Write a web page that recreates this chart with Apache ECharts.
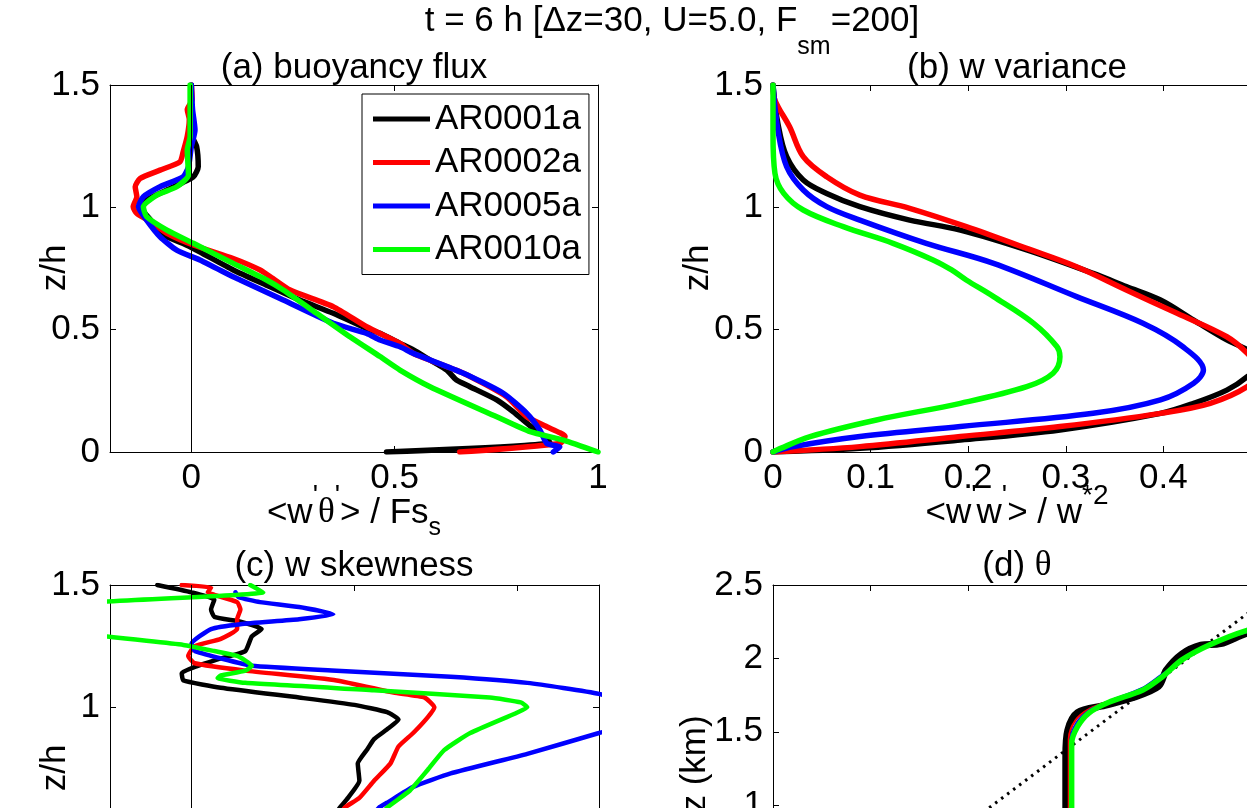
<!DOCTYPE html>
<html>
<head>
<meta charset="utf-8">
<script src="https://cdn.jsdelivr.net/npm/echarts@6.0.0/dist/echarts.min.js"></script>
<style>
html,body{margin:0;padding:0;overflow:hidden;background:#fff;}
#c{width:1400px;height:1000px;}
</style>
</head>
<body>
<div id="c"></div>
<script>
// ---------------- data ----------------
const runs = ['AR0001a', 'AR0002a', 'AR0005a', 'AR0010a'];
const runColors = ['#000000', '#ff0000', '#0000ff', '#00ff00'];

// (a) buoyancy flux  [<w'θ'>/Fs_s , z/h]
const flux_AR0001a = [[0,1.5],[0,1.3],[0.013,1.248],[0.017,1.166],[0.005,1.125],[-0.06,1.071],[-0.11,1.03],[-0.122,0.996],[-0.10,0.948],[-0.077,0.894],[-0.003,0.839],[0.103,0.744],[0.185,0.682],[0.267,0.621],[0.349,0.567],[0.431,0.505],[0.464,0.485],[0.513,0.444],[0.546,0.417],[0.587,0.376],[0.628,0.335],[0.652,0.294],[0.685,0.267],[0.751,0.213],[0.791,0.165],[0.84,0.098],[0.874,0.057],[0.882,0.037],[0.48,0]];
const flux_AR0002a = [[0,1.5],[0.002,1.44],[-0.01,1.40],[-0.005,1.36],[-0.01,1.29],[-0.02,1.227],[-0.028,1.186],[-0.077,1.152],[-0.126,1.118],[-0.138,1.084],[-0.134,1.043],[-0.143,1.002],[-0.134,0.975],[-0.10,0.941],[-0.06,0.894],[0.005,0.846],[0.103,0.791],[0.169,0.744],[0.2,0.71],[0.243,0.662],[0.349,0.594],[0.431,0.512],[0.513,0.444],[0.546,0.403],[0.669,0.322],[0.775,0.226],[0.825,0.144],[0.874,0.103],[0.919,0.063],[0.906,0.035],[0.66,0]];
const flux_AR0005a = [[0,1.5],[0.003,1.40],[0.009,1.316],[0,1.248],[-0.007,1.166],[-0.02,1.125],[-0.077,1.084],[-0.118,1.043],[-0.13,1.002],[-0.11,0.948],[-0.077,0.88],[-0.036,0.825],[0.021,0.785],[0.103,0.716],[0.12,0.703],[0.226,0.621],[0.349,0.526],[0.431,0.485],[0.464,0.458],[0.513,0.43],[0.546,0.403],[0.669,0.322],[0.767,0.24],[0.825,0.158],[0.857,0.09],[0.874,0.035],[0.906,0.02],[0.89,0]];
const flux_AR0010a = [[-0.003,1.5],[-0.003,1.29],[-0.01,1.234],[-0.007,1.132],[-0.036,1.084],[-0.085,1.05],[-0.118,1.002],[-0.11,0.962],[-0.06,0.907],[0.005,0.853],[0.103,0.771],[0.185,0.703],[0.226,0.662],[0.308,0.567],[0.39,0.471],[0.464,0.39],[0.513,0.335],[0.587,0.267],[0.751,0.144],[0.833,0.083],[0.915,0.049],[1.0,0]];

// (b) w variance  [<w'w'>/w*^2 , z/h]
const wvar_AR0001a = [[0,1.5],[0.005,1.343],[0.014,1.207],[0.031,1.112],[0.055,1.057],[0.089,1.003],[0.14,0.948],[0.192,0.907],[0.26,0.826],[0.328,0.73],[0.362,0.676],[0.397,0.621],[0.431,0.539],[0.465,0.458],[0.486,0.417],[0.50,0.37],[0.486,0.308],[0.465,0.253],[0.431,0.199],[0.397,0.158],[0.294,0.09],[0.192,0.049],[0.089,0.015],[0,0]];
const wvar_AR0002a = [[0,1.5],[0.002,1.438],[0.017,1.329],[0.031,1.207],[0.055,1.125],[0.089,1.05],[0.14,0.996],[0.198,0.921],[0.26,0.832],[0.311,0.757],[0.362,0.662],[0.414,0.567],[0.465,0.471],[0.486,0.403],[0.50,0.33],[0.486,0.267],[0.448,0.199],[0.397,0.158],[0.294,0.104],[0.192,0.063],[0.089,0.022],[0,0]];
const wvar_AR0005a = [[0,1.5],[0.005,1.316],[0.014,1.166],[0.031,1.071],[0.055,1.003],[0.089,0.948],[0.157,0.853],[0.226,0.771],[0.311,0.635],[0.379,0.526],[0.42,0.43],[0.441,0.335],[0.431,0.281],[0.397,0.213],[0.328,0.158],[0.192,0.104],[0.089,0.063],[0.021,0.022],[0,0]];
const wvar_AR0010a = [[0,1.5],[0,1.3],[0.002,1.139],[0.011,1.057],[0.031,0.989],[0.072,0.921],[0.123,0.853],[0.164,0.785],[0.183,0.744],[0.198,0.703],[0.226,0.635],[0.267,0.526],[0.291,0.43],[0.294,0.389],[0.287,0.322],[0.26,0.267],[0.192,0.199],[0.106,0.131],[0.038,0.063],[0.004,0.008],[0,0]];

// (c) w skewness  [S_w , z/h]
const skew_AR0001a = [[-0.21,1.5],[0,1.47],[0.14,1.44],[0.12,1.40],[0.14,1.37],[0.30,1.35],[0.43,1.32],[0.37,1.29],[0.33,1.23],[0.18,1.20],[0.02,1.165],[-0.06,1.14],[-0.05,1.11],[0.18,1.08],[0.66,1.04],[1.0,1.01],[1.2,0.98],[1.27,0.95],[1.2,0.91],[1.12,0.87],[1.08,0.83],[1.02,0.77],[1.03,0.70],[0.96,0.63],[0.91,0.59],[0.87,0.55]];
const skew_AR0002a = [[-0.06,1.5],[0.12,1.49],[0.10,1.47],[0.14,1.46],[0.28,1.43],[0.30,1.40],[0.28,1.36],[0.28,1.32],[0.18,1.28],[0.02,1.25],[-0.02,1.21],[0.02,1.18],[0.33,1.15],[0.89,1.11],[1.24,1.06],[1.43,1.04],[1.49,1.0],[1.45,0.96],[1.36,0.895],[1.27,0.84],[1.22,0.77],[1.12,0.70],[1.03,0.63],[0.94,0.59],[0.90,0.55]];
const skew_AR0005a = [[0.27,1.47],[0.29,1.45],[0.42,1.43],[0.66,1.41],[0.87,1.38],[0.66,1.36],[0.30,1.34],[0.12,1.32],[0,1.26],[0.02,1.23],[0.18,1.20],[0.37,1.17],[0.89,1.15],[1.59,1.125],[2.06,1.10],[2.5,1.055],[2.9,0.97],[2.5,0.895],[2.06,0.81],[1.59,0.73],[1.36,0.675],[1.2,0.61],[1.15,0.59],[1.1,0.55]];
const skew_AR0010a = [[0.36,1.5],[0.44,1.47],[-0.9,1.41],[-0.9,1.33],[-0.05,1.255],[0.14,1.23],[0.28,1.21],[0.37,1.17],[0.33,1.15],[0.18,1.13],[0.16,1.12],[0.33,1.10],[1.12,1.07],[1.83,1.04],[2.02,1.02],[2.06,1.0],[1.99,0.976],[1.71,0.895],[1.55,0.825],[1.45,0.745],[1.34,0.66],[1.2,0.59],[1.15,0.55]];

// (d) θ profiles  [θ (K), z (km)]
const theta_AR0001a = [[306.0,0.9],[306.0,1.33],[306.04,1.51],[306.24,1.63],[306.8,1.68],[307.35,1.73],[307.9,1.81],[308.06,1.92],[308.38,2.03],[308.77,2.09],[309.17,2.10],[309.7,2.17],[310.6,2.25]];
const theta_AR0002a = [[306.06,0.9],[306.06,1.45],[306.2,1.58],[306.5,1.66],[306.9,1.71],[307.6,1.79],[308.0,1.88],[308.4,1.99],[308.9,2.09],[309.7,2.18],[310.6,2.26]];
const theta_AR0005a = [[306.1,0.9],[306.1,1.44],[306.22,1.56],[306.5,1.65],[306.9,1.71],[307.58,1.80],[307.95,1.885],[308.4,1.99],[308.9,2.09],[309.7,2.18],[310.6,2.26]];
const theta_AR0010a = [[306.12,0.9],[306.12,1.42],[306.24,1.535],[306.48,1.63],[306.87,1.70],[307.58,1.785],[307.98,1.875],[308.38,1.99],[308.93,2.09],[309.7,2.19],[310.6,2.26]];
const theta_initial = [[300.5,0],[310.5,2.5]];

// ticks
const fluxTicks = [0, 0.5, 1];
const skewTicks = [0, 1, 2];

// ---------------- chart ----------------
const FONT = "'Liberation Sans', Arial, Helvetica, sans-serif";
const SERIF = "'Liberation Serif', 'Times New Roman', serif";

const grids = [
  {left: 110, top: 85, width: 488, height: 367},
  {left: 773, top: 85, width: 488, height: 367},
  {left: 110, top: 585, width: 489, height: 367},
  {left: 773, top: 585, width: 488, height: 367}
].map(g => Object.assign(g, {containLabel: false, outerBoundsMode: 'none'}));

const tickStyle = {show: true, inside: true, length: 6, lineStyle: {color: '#000', width: 1}};
const lineAx = {show: true, onZero: false, lineStyle: {color: '#000', width: 1}};
const labelStyle = {show: true, fontSize: 35, fontFamily: FONT, color: '#000', margin: 9};

function xAx(gi, pos, min, max, extra, showLabel) {
  const ax = {type: 'value', gridIndex: gi, position: pos, min, max,
    axisLine: lineAx, axisTick: Object.assign({}, tickStyle),
    axisLabel: Object.assign({}, labelStyle, {show: showLabel}),
    splitLine: {show: false}};
  if (extra.interval) ax.interval = extra.interval;
  if (extra.ticks) { ax.axisTick.customValues = extra.ticks; ax.axisLabel.customValues = extra.ticks; }
  if (extra.hideMax) ax.axisLabel.showMaxLabel = false;
  return ax;
}
function yAx(gi, pos, max, showLabel) {
  return {type: 'value', gridIndex: gi, position: pos, min: 0, max, interval: 0.5,
    axisLine: lineAx, axisTick: Object.assign({}, tickStyle),
    axisLabel: Object.assign({}, labelStyle, {show: showLabel, margin: 10}),
    splitLine: {show: false}};
}

const xSpecs = [
  [-0.2, 1, {ticks: fluxTicks}],
  [0, 0.5, {interval: 0.1, hideMax: true}],
  [-0.5, 2.5, {ticks: skewTicks}],
  [300, 310, {interval: 2}]
];
const xAxes = [];
xSpecs.forEach((s, i) => xAxes.push(xAx(i, 'bottom', s[0], s[1], s[2], true)));
xSpecs.forEach((s, i) => xAxes.push(xAx(i, 'top', s[0], s[1], s[2], false)));
const yMax = [1.5, 1.5, 1.5, 2.5];
const yAxes = [];
yMax.forEach((m, i) => yAxes.push(yAx(i, 'left', m, true)));
yMax.forEach((m, i) => yAxes.push(yAx(i, 'right', m, false)));

const zeroLine = {silent: true, symbol: ['none', 'none'], label: {show: false},
  lineStyle: {color: '#000', width: 1, type: 'solid'}, data: [{xAxis: 0}], animation: false};

const smoothing = [0.2, 0.35, 0.15, 0.3];
function ser(name, data, gi, width, color, extra) {
  return Object.assign({type: 'line', name, data, xAxisIndex: gi, yAxisIndex: gi,
    symbol: 'none', showSymbol: false, clip: true, silent: true, animation: false,
    smooth: smoothing[gi],
    lineStyle: {width, color, cap: 'round', join: 'round'}, itemStyle: {color}}, extra || {});
}

const panels = [
  [flux_AR0001a, flux_AR0002a, flux_AR0005a, flux_AR0010a],
  [wvar_AR0001a, wvar_AR0002a, wvar_AR0005a, wvar_AR0010a],
  [skew_AR0001a, skew_AR0002a, skew_AR0005a, skew_AR0010a],
  [theta_AR0001a, theta_AR0002a, theta_AR0005a, theta_AR0010a]
];
const widths = [[5.5,5.5,5.5,5.5],[5.5,5.5,5.5,5.5],[4.5,4.5,4.5,4.5],[7,2,2.5,5.5]];
const series = [];
panels.forEach((set, gi) => {
  set.forEach((d, k) => {
    const extra = (k === 0 && (gi === 0 || gi === 2)) ? {markLine: zeroLine} : null;
    series.push(ser(runs[k], d, gi, widths[gi][k], runColors[k], extra));
  });
});
series.push({type: 'line', name: 'initial', data: theta_initial, xAxisIndex: 3, yAxisIndex: 3,
  symbol: 'none', silent: true, animation: false, clip: true, z: 1,
  lineStyle: {width: 3, color: '#000', type: [2.5, 5]}});

const RICH = {
  subT: {fontSize: 25, fontFamily: FONT, fill: '#000', padding: [52, 0, 0, 0]},
  sub: {fontSize: 25, fontFamily: FONT, fill: '#000', padding: [30, 0, 0, 0]},
  sup: {fontSize: 28, fontFamily: FONT, fill: '#000', padding: [0, 0, 34, 0]},
  th: {fontSize: 35, fontFamily: SERIF, fill: '#000'}
};
function txt(x, y, text, rot) {
  return {type: 'text', x, y, rotation: rot || 0, silent: true,
    style: {text, fontSize: 35, fontFamily: FONT, fill: '#000', align: 'center', verticalAlign: 'middle', rich: RICH}};
}

const option = {
  backgroundColor: '#fff',
  animation: false,
  grid: grids,
  xAxis: xAxes,
  yAxis: yAxes,
  legend: {
    show: true, left: 362, top: 94, orient: 'vertical',
    data: runs.map(n => ({name: n, icon: 'rect'})),
    itemWidth: 57, itemHeight: 5, itemGap: 8.5,
    padding: [7.5, 8, 7.5, 11],
    borderColor: '#000', borderWidth: 1, backgroundColor: '#fff',
    textStyle: {fontSize: 35, fontFamily: FONT, color: '#000', lineHeight: 35},
    selectedMode: false
  },
  graphic: [
    txt(672, 21, 't = 6 h [Δz=30, U=5.0, F{subT|sm}=200]'),
    txt(354, 68, '(a) buoyancy flux'),
    txt(1017, 68, '(b) w variance'),
    txt(354, 566, '(c) w skewness'),
    txt(1017, 566, '(d) {th|θ}'),
    txt(354, 513, "<w{sup|'}{th|θ}{sup|'}> / Fs{sub|s}"),
    txt(1017, 513, "<w{sup|'}w{sup|'}> / w{sup|*2}"),
    txt(55, 268, 'z/h', Math.PI / 2),
    txt(698, 268, 'z/h', Math.PI / 2),
    txt(55, 768, 'z/h', Math.PI / 2),
    txt(695, 764, 'z (km)', Math.PI / 2)
  ],
  series
};

const chart = echarts.init(document.getElementById('c'), null, {renderer: 'canvas'});
chart.setOption(option);
</script>
</body>
</html>
